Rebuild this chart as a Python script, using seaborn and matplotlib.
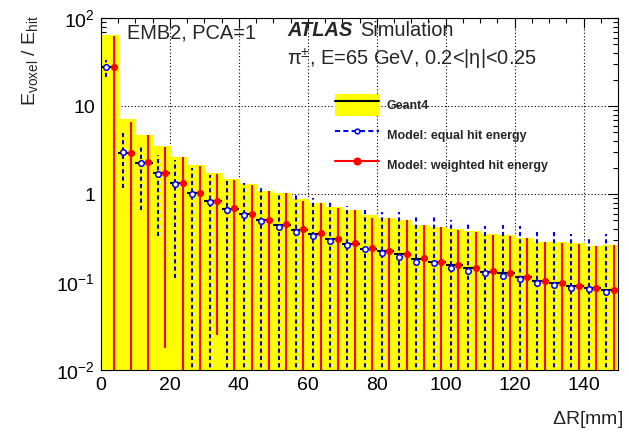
import numpy as np
import pandas as pd
import matplotlib
matplotlib.use("Agg")
import matplotlib.pyplot as plt
import seaborn as sns
from matplotlib.lines import Line2D
from matplotlib.patches import Patch
from matplotlib.legend_handler import HandlerTuple
from matplotlib.ticker import MultipleLocator, LogLocator, FuncFormatter, NullFormatter

# Data
bin_edges = [0, 5, 10, 15, 20, 25, 30, 35, 40, 45, 50, 55, 60, 65, 70, 75,
             80, 85, 90, 95, 100, 105, 110, 115, 120, 125, 130, 135, 140, 145, 150]

g4_value = [28, 2.96, 2.27, 1.72, 1.32, 1.02, 0.84, 0.68, 0.59, 0.51,
            0.45, 0.39, 0.35, 0.31, 0.27, 0.24, 0.225, 0.206, 0.183, 0.167,
            0.154, 0.143, 0.131, 0.126, 0.114, 0.103, 0.097, 0.091, 0.085, 0.081]
g4_upper = [64, 7.06, 4.7, 3.54, 2.66, 2.14, 1.72, 1.47, 1.29, 1.09,
            1.04, 0.87, 0.78, 0.71, 0.65, 0.58, 0.54, 0.51, 0.445, 0.425,
            0.40, 0.38, 0.35, 0.34, 0.32, 0.287, 0.283, 0.275, 0.259, 0.265]

equal_value = [28, 2.98, 2.24, 1.69, 1.29, 1.0, 0.82, 0.66, 0.57, 0.49,
               0.426, 0.37, 0.336, 0.295, 0.261, 0.235, 0.215, 0.194, 0.17, 0.163,
               0.146, 0.135, 0.126, 0.117, 0.107, 0.098, 0.092, 0.086, 0.083, 0.076]
equal_hi = [33.3, 4.9, 3.6, 2.77, 2.43, 1.97, 1.64, 1.5, 1.35, 1.18,
            1.0, 0.97, 0.89, 0.82, 0.73, 0.66, 0.63, 0.62, 0.57, 0.555,
            0.5, 0.47, 0.43, 0.45, 0.43, 0.39, 0.37, 0.35, 0.33, 0.35]
equal_lo = [21.5, 1.16, 0.66, 0.33, 0.11, 0.001, 0.001, 0.001, 0.001, 0.001,
            0.001, 0.001, 0.001, 0.001, 0.001, 0.001, 0.001, 0.001, 0.001, 0.001,
            0.001, 0.001, 0.001, 0.001, 0.001, 0.001, 0.001, 0.001, 0.001, 0.001]

weighted_value = [28, 2.94, 2.29, 1.72, 1.32, 1.02, 0.84, 0.69, 0.59, 0.51,
                  0.456, 0.397, 0.357, 0.31, 0.28, 0.243, 0.225, 0.206, 0.186, 0.167,
                  0.156, 0.143, 0.133, 0.126, 0.114, 0.103, 0.097, 0.091, 0.085, 0.081]
weighted_hi = [62, 6.6, 4.7, 3.4, 2.6, 2.1, 1.7, 1.45, 1.27, 1.07,
               1.02, 0.84, 0.78, 0.69, 0.65, 0.54, 0.53, 0.50, 0.44, 0.42,
               0.39, 0.37, 0.345, 0.335, 0.315, 0.283, 0.28, 0.27, 0.255, 0.26]
weighted_lo = [0.001, 0.001, 0.001, 0.018, 0.001, 0.001, 0.025, 0.001, 0.001, 0.001,
               0.001, 0.001, 0.001, 0.001, 0.001, 0.001, 0.001, 0.001, 0.001, 0.001,
               0.001, 0.001, 0.001, 0.001, 0.001, 0.001, 0.001, 0.001, 0.001, 0.001]

edges = np.array(bin_edges, dtype=float)
centers = 0.5 * (edges[:-1] + edges[1:])
df = pd.DataFrame({
    "r": centers,
    "g4": g4_value, "g4_up": g4_upper,
    "eq": equal_value, "eq_hi": equal_hi, "eq_lo": equal_lo,
    "wt": weighted_value, "wt_hi": weighted_hi, "wt_lo": weighted_lo,
})

# Style
sns.set_theme(style="ticks")
plt.rcParams["font.family"] = ["Liberation Sans", "DejaVu Sans"]
plt.rcParams["mathtext.fontset"] = "custom"
plt.rcParams["mathtext.rm"] = "Liberation Sans"
plt.rcParams["mathtext.it"] = "Liberation Sans:italic"
plt.rcParams["mathtext.bf"] = "Liberation Sans:bold"

fig = plt.figure(figsize=(6.29, 4.32), dpi=100)
ax = fig.add_axes([101 / 629, 1 - 370 / 432, 517 / 629, 352 / 432])
ax.set_yscale("log")

YELLOW = "#ffff00"
BLUE = "#0000ff"
RED = "#ff0000"

# Geant4 band (edge in the same yellow so neighbouring bins join up)
sns.histplot(data=df, x="r", weights="g4_up", bins=bin_edges, element="bars", fill=True,
             color=YELLOW, alpha=1, edgecolor=YELLOW, linewidth=0.8, ax=ax, zorder=1)
ax.errorbar(df["r"], df["g4"], xerr=2.5, fmt="none", ecolor="black",
            elinewidth=1.5, capsize=0, zorder=3)

# Model: equal hit energy
x_eq = df["r"] - 1.0
eb = ax.errorbar(x_eq, df["eq"], yerr=[df["eq"] - df["eq_lo"], df["eq_hi"] - df["eq"]],
                 fmt="none", ecolor=BLUE, elinewidth=1.5, capsize=0, zorder=4)
eb[2][0].set_linestyle((0, (2, 1.5)))
sns.scatterplot(x=x_eq, y=df["eq"], marker="o", s=16, facecolor="white",
                edgecolor=BLUE, linewidth=1.1, ax=ax, zorder=5)

# Model: weighted hit energy
x_wt = df["r"] + 1.2
ax.errorbar(x_wt, df["wt"], yerr=[df["wt"] - df["wt_lo"], df["wt_hi"] - df["wt"]],
            fmt="none", ecolor=RED, elinewidth=1.5, capsize=0, zorder=6)
sns.scatterplot(x=x_wt, y=df["wt"], marker="o", s=26, color=RED,
                edgecolor=RED, linewidth=0, ax=ax, zorder=7)

# Axes
ax.set_xlim(0, 150)
ax.set_ylim(1e-2, 1e2)
ax.set_axisbelow(True)
ax.grid(True, which="major", color="black", linestyle=(0, (1, 2)), linewidth=0.8)
ax.xaxis.set_major_locator(MultipleLocator(20))
ax.xaxis.set_minor_locator(MultipleLocator(5))
ax.yaxis.set_major_locator(LogLocator(base=10, numticks=10))
ax.yaxis.set_minor_locator(LogLocator(base=10, subs=np.arange(2, 10), numticks=20))
ax.yaxis.set_minor_formatter(NullFormatter())

labels = {-2: r"$10^{-2}$", -1: r"$10^{-1}$", 0: "1", 1: "10", 2: r"$10^{2}$"}
ax.yaxis.set_major_formatter(FuncFormatter(lambda v, p: labels.get(int(round(np.log10(v))), "")))

ax.tick_params(which="both", direction="in", top=True, right=True, width=0.8,
               color="black", labelsize=14, labelcolor="black")
ax.tick_params(which="major", length=7)
ax.tick_params(which="minor", length=3.6)
ax.tick_params(axis="y", pad=4.3)
ax.tick_params(axis="x", pad=5)
for s in ax.spines.values():
    s.set_color("black")
    s.set_linewidth(0.8)
    s.set_zorder(10)

ax.set_xlabel(r"$\Delta$R[mm]", fontsize=14, loc="right")
ax.xaxis.set_label_coords(1.009, -0.112)
ax.xaxis.label.set_va("top")
ax.set_ylabel(r"E$_{\mathrm{voxel}}$ / E$_{\mathrm{hit}}$", fontsize=14, loc="top")
ax.yaxis.set_label_coords(-0.118, 1.008)

# Annotations
fig.text(127 / 629, 1 - 38.5 / 432, "EMB2, PCA=1", fontsize=14.4, va="baseline")
fig.text(287 / 629, 1 - 36.5 / 432, "ATLAS", fontsize=14.4, weight="bold", style="italic", va="baseline")
fig.text(360 / 629, 1 - 36.5 / 432, "Simulation", fontsize=14.4, va="baseline")
fig.text(287 / 629, 1 - 65 / 432, r"π$^{\pm}$, E=65 GeV, 0.2<|η|<0.25", fontsize=14.4, va="baseline")

# Legend
handles = [
    (Patch(facecolor=YELLOW, edgecolor="none"), Line2D([], [], color="black", lw=1.5)),
    Line2D([], [], color=BLUE, lw=1.5, ls=(0, (2.4, 1.6)), marker="o", ms=3.4,
           mfc="white", mec=BLUE, mew=1.1),
    Line2D([], [], color=RED, lw=1.5, marker="o", ms=4.8),
]
names = ["Geant4", "Model: equal hit energy", "Model: weighted hit energy"]
ax.legend(handles, names, loc="upper left", bbox_to_anchor=(335 / 629, 1 - 94 / 432),
          bbox_transform=fig.transFigure, frameon=False, borderpad=0, borderaxespad=0,
          handlelength=3.5, handleheight=2.33, labelspacing=0.64, handletextpad=0.64,
          prop={"weight": "bold", "size": 9}, handler_map={tuple: HandlerTuple(ndivide=1, pad=0)})

fig.savefig("out.png", dpi=100)
